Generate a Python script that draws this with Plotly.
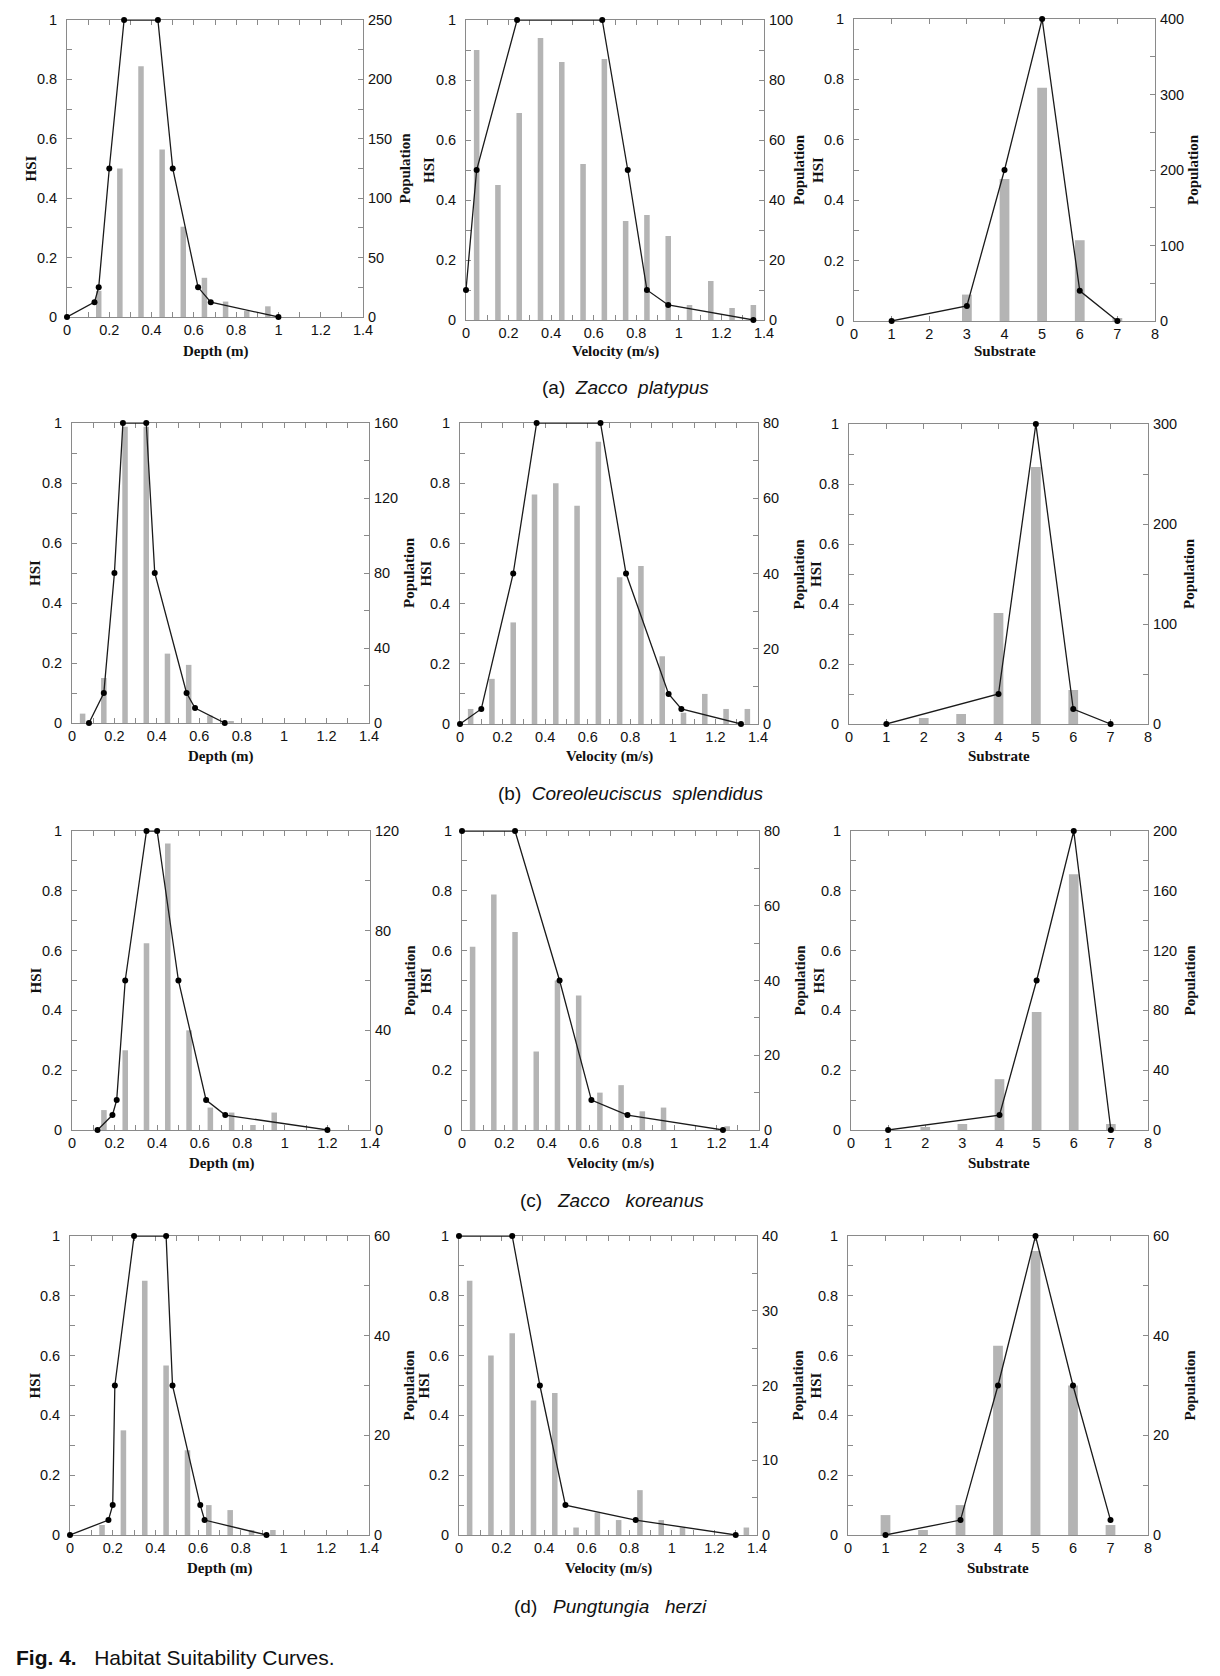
import plotly.graph_objects as go

# page size and the browser's default body margin (the figure starts at (8, 8))
PAGE_W, PAGE_H = 1220, 1676
BODY = 8
W, H = PAGE_W - BODY, PAGE_H - BODY

# ---------------- data ----------------
# (a) Zacco platypus
zp_depth_hsi_x = [0, 0.13, 0.15, 0.20, 0.27, 0.43, 0.50, 0.62, 0.68, 1.00]
zp_depth_hsi_y = [0, 0.05, 0.1, 0.5, 1, 1, 0.5, 0.1, 0.05, 0]
zp_depth_bins = [0.15, 0.25, 0.35, 0.45, 0.55, 0.65, 0.75, 0.85, 0.95]
zp_depth_pop = [22, 125, 211, 141, 76, 33, 13, 5, 9]

zp_vel_hsi_x = [0, 0.05, 0.24, 0.64, 0.76, 0.85, 0.95, 1.35]
zp_vel_hsi_y = [0.1, 0.5, 1, 1, 0.5, 0.1, 0.05, 0]
zp_vel_bins = [0.05, 0.15, 0.25, 0.35, 0.45, 0.55, 0.65, 0.75, 0.85, 0.95, 1.05, 1.15, 1.25, 1.35]
zp_vel_pop = [90, 45, 69, 94, 86, 52, 87, 33, 35, 28, 5, 13, 4, 5]

zp_sub_hsi_x = [1, 3, 4, 5, 6, 7]
zp_sub_hsi_y = [0, 0.05, 0.5, 1, 0.1, 0]
zp_sub_bins = [3, 4, 5, 6, 7]
zp_sub_pop = [35, 188, 309, 107, 4]

# (b) Coreoleuciscus splendidus
cs_depth_hsi_x = [0.08, 0.15, 0.20, 0.24, 0.35, 0.39, 0.54, 0.58, 0.72]
cs_depth_hsi_y = [0, 0.1, 0.5, 1, 1, 0.5, 0.1, 0.05, 0]
cs_depth_bins = [0.05, 0.15, 0.25, 0.35, 0.45, 0.55, 0.65, 0.75]
cs_depth_pop = [5, 24, 158, 158, 37, 31, 4, 1]

cs_vel_hsi_x = [0, 0.10, 0.25, 0.36, 0.66, 0.78, 0.98, 1.04, 1.32]
cs_vel_hsi_y = [0, 0.05, 0.5, 1, 1, 0.5, 0.1, 0.05, 0]
cs_vel_bins = [0.05, 0.15, 0.25, 0.35, 0.45, 0.55, 0.65, 0.75, 0.85, 0.95, 1.05, 1.15, 1.25, 1.35]
cs_vel_pop = [4, 12, 27, 61, 64, 58, 75, 39, 42, 18, 3, 8, 4, 4]

cs_sub_hsi_x = [1, 4, 5, 6, 7]
cs_sub_hsi_y = [0, 0.1, 1, 0.05, 0]
cs_sub_bins = [2, 3, 4, 5, 6]
cs_sub_pop = [6, 10, 111, 257, 34]

# (c) Zacco koreanus
zk_depth_hsi_x = [0.12, 0.19, 0.21, 0.25, 0.35, 0.40, 0.50, 0.63, 0.72, 1.20]
zk_depth_hsi_y = [0, 0.05, 0.1, 0.5, 1, 1, 0.5, 0.1, 0.05, 0]
zk_depth_bins = [0.15, 0.25, 0.35, 0.45, 0.55, 0.65, 0.75, 0.85, 0.95]
zk_depth_pop = [8, 32, 75, 115, 40, 9, 7, 2, 7]

zk_vel_hsi_x = [0, 0.25, 0.46, 0.61, 0.78, 1.23]
zk_vel_hsi_y = [1, 1, 0.5, 0.1, 0.05, 0]
zk_vel_bins = [0.05, 0.15, 0.25, 0.35, 0.45, 0.55, 0.65, 0.75, 0.85, 0.95, 1.25]
zk_vel_pop = [49, 63, 53, 21, 40, 36, 10, 12, 5, 6, 1]

zk_sub_hsi_x = [1, 4, 5, 6, 7]
zk_sub_hsi_y = [0, 0.05, 0.5, 1, 0]
zk_sub_bins = [2, 3, 4, 5, 6, 7]
zk_sub_pop = [2, 4, 34, 79, 171, 4]

# (d) Pungtungia herzi
ph_depth_hsi_x = [0, 0.18, 0.20, 0.21, 0.30, 0.45, 0.48, 0.61, 0.63, 0.92]
ph_depth_hsi_y = [0, 0.05, 0.1, 0.5, 1, 1, 0.5, 0.1, 0.05, 0]
ph_depth_bins = [0.15, 0.25, 0.35, 0.45, 0.55, 0.65, 0.75, 0.85, 0.95]
ph_depth_pop = [2, 21, 51, 34, 17, 6, 5, 1, 1]

ph_vel_hsi_x = [0, 0.25, 0.38, 0.50, 0.83, 1.30]
ph_vel_hsi_y = [1, 1, 0.5, 0.1, 0.05, 0]
ph_vel_bins = [0.05, 0.15, 0.25, 0.35, 0.45, 0.55, 0.65, 0.75, 0.85, 0.95, 1.05, 1.35]
ph_vel_pop = [34, 24, 27, 18, 19, 1, 3, 2, 6, 2, 1, 1]

ph_sub_hsi_x = [1, 3, 4, 5, 6, 7]
ph_sub_hsi_y = [0, 0.05, 0.5, 1, 0.5, 0.05]
ph_sub_bins = [1, 2, 3, 4, 5, 6, 7]
ph_sub_pop = [4, 1, 6, 38, 57, 30, 2]

# population axis maxima / label step per panel
pop_max = [250, 100, 400, 160, 80, 300, 120, 80, 200, 60, 40, 60]
pop_step = [50, 20, 100, 40, 20, 100, 40, 20, 40, 20, 10, 20]

x_titles = ["Depth (m)", "Velocity (m/s)", "Substrate"]
caption_tags = ["(a)", "(b)", "(c)", "(d)"]
caption_species = [["Zacco", "platypus"], ["Coreoleuciscus", "splendidus"],
                   ["Zacco", "koreanus"], ["Pungtungia", "herzi"]]

panels = [
    (zp_depth_hsi_x, zp_depth_hsi_y, zp_depth_bins, zp_depth_pop),
    (zp_vel_hsi_x, zp_vel_hsi_y, zp_vel_bins, zp_vel_pop),
    (zp_sub_hsi_x, zp_sub_hsi_y, zp_sub_bins, zp_sub_pop),
    (cs_depth_hsi_x, cs_depth_hsi_y, cs_depth_bins, cs_depth_pop),
    (cs_vel_hsi_x, cs_vel_hsi_y, cs_vel_bins, cs_vel_pop),
    (cs_sub_hsi_x, cs_sub_hsi_y, cs_sub_bins, cs_sub_pop),
    (zk_depth_hsi_x, zk_depth_hsi_y, zk_depth_bins, zk_depth_pop),
    (zk_vel_hsi_x, zk_vel_hsi_y, zk_vel_bins, zk_vel_pop),
    (zk_sub_hsi_x, zk_sub_hsi_y, zk_sub_bins, zk_sub_pop),
    (ph_depth_hsi_x, ph_depth_hsi_y, ph_depth_bins, ph_depth_pop),
    (ph_vel_hsi_x, ph_vel_hsi_y, ph_vel_bins, ph_vel_pop),
    (ph_sub_hsi_x, ph_sub_hsi_y, ph_sub_bins, ph_sub_pop),
]

# ---------------- layout geometry (page pixels) ----------------
boxes = [
    (67, 363, 20, 317), (466, 764, 20, 320), (854, 1155, 19, 321),
    (72, 369, 423, 723), (460, 758, 423, 724), (849, 1148, 424, 724),
    (72, 370, 831, 1130), (462, 759, 831, 1130), (851, 1148, 831, 1130),
    (70, 369, 1236, 1535), (459, 757, 1236, 1535), (848, 1148, 1236, 1535),
]
hsi_label_x = [[31, 429, 818], [35, 425, 816], [35, 425, 818], [34, 423, 815]]
pop_label_x = [[405, 799, 1193], [409, 798, 1189], [409, 799, 1189], [408, 797, 1189]]
xtitle_y = [351, 756, 1163, 1568]
caption_y = [387, 794, 1200, 1606]
caption_x = [625, 631, 612, 610]
caption_gap = [2, 2, 3, 3]


def fx(p):
    return (p - BODY) / W


def fy(p):
    return 1 - (p - BODY) / H


AX = "#8a8a8a"
TICKFONT = dict(family="Liberation Sans, Arial, sans-serif", size=14.5, color="#111")
TITLEFONT = dict(family="Liberation Serif, Times New Roman, serif", size=15, color="#111")

fig = go.Figure()
layout = {}
annotations = []

for i, (hx, hy, bx, by) in enumerate(panels):
    n = i + 1
    col = i % 3
    row = i // 3
    x0, x1, y0, y1 = boxes[i]
    is_sub = col == 2
    xname = f"x{n}"
    base_y = f"y{n}"
    hsi_y = f"y{n + 12}"

    fig.add_trace(go.Bar(
        x=bx, y=by, xaxis=xname, yaxis=base_y,
        width=0.26 if is_sub else 0.026,
        marker=dict(color="#b4b4b4", line=dict(width=0)),
        showlegend=False, hoverinfo="skip"))
    fig.add_trace(go.Scatter(
        x=hx, y=hy, xaxis=xname, yaxis=hsi_y, mode="lines+markers",
        line=dict(color="#1a1a1a", width=1.3),
        marker=dict(color="#000", size=6),
        cliponaxis=False, showlegend=False))

    xa = dict(
        domain=[fx(x0), fx(x1)], anchor=base_y,
        range=[0, 8] if is_sub else [0, 1.4],
        tickmode="linear", tick0=0, dtick=1 if is_sub else 0.2,
        ticks="inside", ticklen=5, tickcolor=AX, tickwidth=1,
        showline=True, linecolor=AX, linewidth=1, mirror="ticks",
        showgrid=False, zeroline=False, tickfont=TICKFONT,
        tickformat="~g", fixedrange=True, layer="below traces",
        automargin=False,
    )
    if not is_sub:
        xa["minor"] = dict(dtick=0.1, tick0=0, ticks="inside", ticklen=5,
                           tickcolor=AX, showgrid=False)
    layout[f"xaxis{n}"] = xa

    layout[f"yaxis{n}"] = dict(
        domain=[fy(y1), fy(y0)], anchor=xname, side="right",
        range=[0, pop_max[i]], tickmode="linear", tick0=0, dtick=pop_step[i],
        ticks="inside", ticklen=5, tickcolor=AX,
        minor=dict(dtick=pop_step[i] / 2, tick0=0, ticks="inside", ticklen=5,
                   tickcolor=AX, showgrid=False),
        showline=True, linecolor=AX, linewidth=1,
        showgrid=False, zeroline=False, tickfont=TICKFONT, ticklabelstandoff=1,
        fixedrange=True, layer="below traces", automargin=False,
    )
    layout[f"yaxis{n + 12}"] = dict(
        overlaying=base_y, anchor=xname, side="left",
        range=[0, 1], tickmode="linear", tick0=0, dtick=0.2,
        ticks="inside", ticklen=5, tickcolor=AX,
        minor=dict(dtick=0.1, tick0=0, ticks="inside", ticklen=5,
                   tickcolor=AX, showgrid=False),
        showline=True, linecolor=AX, linewidth=1,
        showgrid=False, zeroline=False, tickfont=TICKFONT, tickformat="~g",
        ticklabelstandoff=6, fixedrange=True, layer="below traces",
        automargin=False,
    )

    ymid = (y0 + y1) / 2
    annotations.append(dict(
        text="<b>HSI</b>", x=fx(hsi_label_x[row][col]), y=fy(ymid),
        xref="paper", yref="paper", showarrow=False, textangle=-90,
        font=TITLEFONT, xanchor="center", yanchor="middle"))
    annotations.append(dict(
        text="<b>Population</b>", x=fx(pop_label_x[row][col]), y=fy(ymid),
        xref="paper", yref="paper", showarrow=False, textangle=-90,
        font=TITLEFONT, xanchor="center", yanchor="middle"))
    annotations.append(dict(
        text=f"<b>{x_titles[col]}</b>", x=fx((x0 + x1) / 2), y=fy(xtitle_y[row]),
        xref="paper", yref="paper", showarrow=False,
        font=TITLEFONT, xanchor="center", yanchor="middle"))

CAPFONT = dict(family="Liberation Sans, Arial, sans-serif", size=19, color="#111")
for r, tag in enumerate(caption_tags):
    gap = "\u00a0" * caption_gap[r]
    genus, species = caption_species[r]
    annotations.append(dict(
        text=f"{tag}{gap}<i>{genus}{gap}{species}</i>",
        x=fx(caption_x[r]), y=fy(caption_y[r]),
        xref="paper", yref="paper", showarrow=False, font=CAPFONT,
        xanchor="center", yanchor="middle"))

annotations.append(dict(
    text="<b>Fig.\u00a04.</b>\u00a0\u00a0\u00a0Habitat\u00a0Suitability\u00a0Curves.",
    x=fx(14), y=fy(1657), xref="paper", yref="paper", showarrow=False,
    font=dict(family="Liberation Sans, Arial, sans-serif", size=21, color="#111"),
    xanchor="left", yanchor="middle"))

fig.update_layout(
    width=W, height=H,
    margin=dict(l=0, r=0, t=0, b=0, pad=0, autoexpand=False),
    paper_bgcolor="white", plot_bgcolor="white",
    barmode="overlay", annotations=annotations, **layout)

fig.write_html("out.html")
